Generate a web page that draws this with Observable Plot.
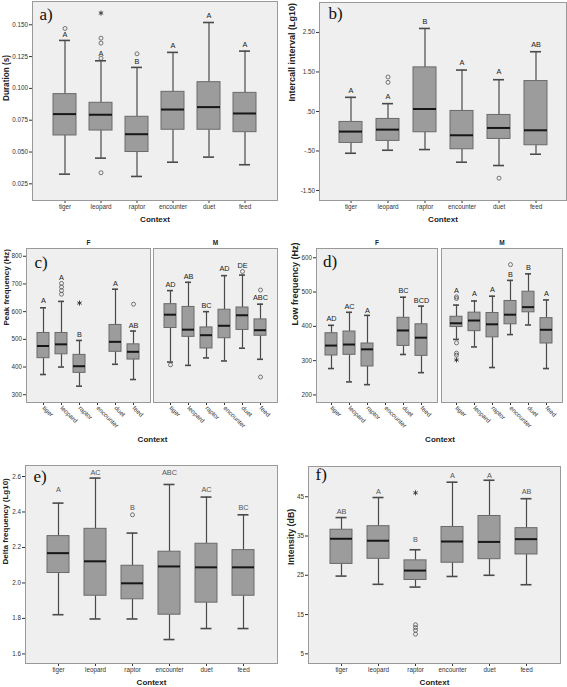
<!DOCTYPE html>
<html><head><meta charset="utf-8">
<script src="https://cdn.jsdelivr.net/npm/d3@7"></script>
<script src="https://cdn.jsdelivr.net/npm/@observablehq/plot@0.6"></script>
<style>
html,body{margin:0;padding:0;background:#fff;}
#fig{position:relative;width:567px;height:687px;overflow:hidden;background:#fff;}
#fig > div{position:absolute;}
#fig svg{overflow:visible;}
</style></head><body><div id="fig"></div>
<script>
// ---------- data ----------
const contexts = ["tiger", "leopard", "raptor", "encounter", "duet", "feed"];
const sexes = ["F", "M"];

// a) Duration (s)
const durLow  = [0.0326, 0.0452, 0.0308, 0.0420, 0.0460, 0.0400];
const durQ1   = [0.0630, 0.0669, 0.0500, 0.0675, 0.0675, 0.0656];
const durMed  = [0.0798, 0.0793, 0.0640, 0.0834, 0.0853, 0.0803];
const durQ3   = [0.0955, 0.0887, 0.0777, 0.0973, 0.1049, 0.0965];
const durHigh = [0.1377, 0.1217, 0.1165, 0.1283, 0.1518, 0.1293];
const durOutliers = [[0.1471], [0.1395, 0.1356, 0.1237, 0.0337], [0.1272], [], [], []];
const durExtremes = [[], [0.1592], [], [], [], []];
const durLetters  = ["A", "A", "B", "A", "A", "A"];
const durLetterAt = [0.1421, 0.1272, 0.1214, 0.1335, 0.1573, 0.1343];
const durTicks  = [0.025, 0.05, 0.075, 0.1, 0.125, 0.15];
const durLabels = ["0.025", "0.050", "0.075", "0.100", "0.125", "0.150"];

// b) Intercall interval (Lg10)
const intLow  = [-0.557, -0.481, -0.464, -0.784, -0.868, -0.582];
const intQ1   = [-0.296, -0.245, -0.026, -0.456, -0.195, -0.355];
const intMed  = [-0.009, 0.041, 0.563, -0.102, 0.083, 0.024];
const intQ3   = [0.235, 0.311, 1.616, 0.513, 0.412, 1.270];
const intHigh = [0.858, 0.698, 2.601, 1.548, 1.304, 2.012];
const intOutliers = [[], [1.372, 1.237], [], [], [-1.188], []];
const intExtremes = [[], [], [], [], [], []];
const intLetters  = ["A", "A", "B", "A", "A", "AB"];
const intLetterAt = [1.026, 0.883, 2.778, 1.742, 1.506, 2.197];
const intTicks  = [-1.5, -0.5, 0.5, 1.5, 2.5];
const intLabels = ["-1.50", "-.50", ".50", "1.50", "2.50"];

// c) Peak frequency (Hz), females / males
const peakLowF  = [373, 400, 331, null, 410, 355];
const peakQ1F   = [432, 446, 379, null, 455, 427];
const peakMedF  = [476, 482, 403, null, 491, 455];
const peakQ3F   = [523, 523, 444, null, 552, 482];
const peakHighF = [614, 637, 496, null, 681, 530];
const peakOutliersF = [[], [702, 689, 676, 663], [], [], [], [627]];
const peakExtremesF = [[], [], [631], [], [], []];
const peakLettersF  = ["A", "A", "B", null, "A", "AB"];
const peakLetterAtF = [639, 724, 517, null, 702, 549];
const peakLowM  = [418, 406, 433, 422, 468, 428];
const peakQ1M   = [541, 509, 467, 504, 534, 513];
const peakMedM  = [589, 535, 515, 549, 587, 533];
const peakQ3M   = [627, 617, 543, 607, 615, 572];
const peakHighM = [676, 706, 600, 730, 732, 627];
const peakOutliersM = [[408], [], [], [], [745], [678, 364]];
const peakExtremesM = [[], [], [], [], [], []];
const peakLettersM  = ["AD", "AB", "BC", "AD", "DE", "ABC"];
const peakLetterAtM = [698, 726, 621, 754, 765, 649];
const peakTicks  = [300, 400, 500, 600, 700, 800];
const peakLabels = ["300", "400", "500", "600", "700", "800"];

// d) Low frequency (Hz), females / males
const lowLowF  = [277, 238, 230, null, 318, 265];
const lowQ1F   = [315, 317, 283, null, 343, 314];
const lowMedF  = [344, 347, 333, null, 388, 367];
const lowQ3F   = [380, 385, 350, null, 425, 406];
const lowHighF = [403, 441, 432, null, 485, 459];
const lowOutliersF = [[], [], [], [], [], []];
const lowExtremesF = [[], [], [], [], [], []];
const lowLettersF  = ["AD", "AC", "A", null, "BC", "BCD"];
const lowLetterAtF = [423, 458, 447, null, 504, 476];
const lowLowM  = [362, 340, 280, 376, 404, 277];
const lowQ1M   = [398, 386, 368, 406, 441, 350];
const lowMedM  = [409, 417, 406, 434, 456, 390];
const lowQ3M   = [428, 440, 439, 474, 501, 424];
const lowHighM = [462, 474, 488, 534, 553, 477];
const lowOutliersM = [[486, 481, 352, 322, 316], [], [], [580], [], []];
const lowExtremesM = [[302], [], [], [], [], []];
const lowLettersM  = ["A", "A", "A", "B", "B", "A"];
const lowLetterAtM = [505, 494, 507, 552, 572, 496];
const lowTicks  = [200, 300, 400, 500, 600];
const lowLabels = ["200", "300", "400", "500", "600"];

// e) Delta frequency (Lg10)
const delLow  = [1.821, 1.797, 1.797, 1.681, 1.743, 1.743];
const delQ1   = [2.056, 1.928, 1.908, 1.821, 1.889, 1.928];
const delMed  = [2.168, 2.122, 1.998, 2.093, 2.088, 2.088];
const delQ3   = [2.264, 2.305, 2.097, 2.176, 2.221, 2.185];
const delHigh = [2.450, 2.591, 2.281, 2.555, 2.484, 2.384];
const delOutliers = [[], [], [2.384], [], [], []];
const delExtremes = [[], [], [], [], [], []];
const delLetters  = ["A", "AC", "B", "ABC", "AC", "BC"];
const delLetterAt = [2.527, 2.624, 2.427, 2.624, 2.525, 2.424];
const delTicks  = [1.6, 1.8, 2.0, 2.2, 2.4, 2.6];
const delLabels = ["1.6", "1.8", "2.0", "2.2", "2.4", "2.6"];

// f) Intensity (dB)
const intsLow  = [24.8, 22.7, 22.0, 24.7, 25.0, 22.6];
const intsQ1   = [27.9, 29.2, 23.8, 28.2, 29.1, 30.3];
const intsMed  = [34.3, 33.8, 26.2, 33.6, 33.5, 34.2];
const intsQ3   = [36.6, 37.5, 28.8, 37.3, 40.1, 37.0];
const intsHigh = [39.7, 44.8, 31.5, 48.7, 49.2, 44.5];
const intsOutliers = [[], [], [12.4, 11.7, 11.0, 10.0], [], [], []];
const intsExtremes = [[], [], [46.0], [], [], []];
const intsLetters  = ["AB", "A", "B", "A", "A", "AB"];
const intsLetterAt = [41.3, 46.4, 34.2, 50.3, 50.3, 46.3];
const intsTicks  = [5, 15, 25, 35, 45];
const intsLabels = ["5", "15", "25", "35", "45"];

// ---------- helpers ----------
const SANS = "'Liberation Sans', Arial, sans-serif";
const SERIF = "'Liberation Serif', 'Times New Roman', serif";
const BG = "#efefef", FRAME = "#9a9a9a", BOX = "#9c9c9c", BOX_EDGE = "#6a6a6a";
const WHISK = "#4a4a4a", MED = "#161616", OUT = "#555";

function boxRows(g, lo, q1, med, q3, hi) {
  return contexts.map((c, i) => ({group: g, cat: c, lo: lo[i], q1: q1[i], med: med[i], q3: q3[i], hi: hi[i]}))
    .filter(d => d.med != null);
}
function pointRows(g, lists) {
  return lists.flatMap((vs, i) => vs.map(v => ({group: g, cat: contexts[i], v})));
}
function letterRows(g, letters, at) {
  return letters.map((t, i) => ({group: g, cat: contexts[i], t, v: at[i]})).filter(d => d.t);
}

function boxPlot(p) {
  const F = p.faceted ? {fx: "group"} : {};
  const first = p.faceted ? {fx: ["F"]} : {};
  const marks = [
    Plot.frame({fill: BG, stroke: FRAME, strokeWidth: 1}),
    Plot.ruleX(p.boxes, {...F, x: "cat", y1: "lo", y2: "q1", stroke: WHISK, strokeWidth: 1.2}),
    Plot.ruleX(p.boxes, {...F, x: "cat", y1: "q3", y2: "hi", stroke: WHISK, strokeWidth: 1.2}),
    Plot.tickY(p.boxes, {...F, x: "cat", y: "lo", insetLeft: p.capInset, insetRight: p.capInset, stroke: WHISK, strokeWidth: 1.6}),
    Plot.tickY(p.boxes, {...F, x: "cat", y: "hi", insetLeft: p.capInset, insetRight: p.capInset, stroke: WHISK, strokeWidth: 1.6}),
    Plot.barY(p.boxes, {...F, x: "cat", y1: "q1", y2: "q3", fill: BOX, stroke: BOX_EDGE, strokeWidth: 1}),
    Plot.tickY(p.boxes, {...F, x: "cat", y: "med", stroke: MED, strokeWidth: 2}),
    Plot.dot(p.outs, {...F, x: "cat", y: "v", r: 2, stroke: OUT, strokeWidth: 0.8, fill: "none"}),
    Plot.dot(p.stars, {...F, x: "cat", y: "v", r: 2.4, symbol: "asterisk", stroke: "#333", strokeWidth: 0.9}),
    Plot.text(p.letters, {...F, x: "cat", y: "v", text: "t", fontSize: 7.3, fill: p.letterFill, fontFamily: SANS}),
    Plot.text([p.tag], {...first, text: d => d, frameAnchor: "top-left", dx: p.tagDx, dy: p.tagDy,
      textAnchor: "start", lineAnchor: "middle", fontFamily: SERIF, fontSize: 17, fill: "#111"}),
    Plot.text([p.yTitle], {...first, text: d => d, frameAnchor: "left", rotate: -90, dx: p.yTitleDx,
      fontWeight: "bold", fontSize: p.yTitleSize, fill: "#222", fontFamily: SANS}),
    Plot.text(["Context"], {...first, text: d => d, frameAnchor: "bottom", dx: p.contextDx || 0, dy: p.contextDy,
      lineAnchor: "middle", fontWeight: "bold", fontSize: 8, fill: "#222", fontFamily: SANS})
  ];
  if (p.faceted) {
    marks.push(Plot.text(sexes, {fx: d => d, text: d => d, frameAnchor: "top", dy: -6, lineAnchor: "middle",
      fontWeight: "bold", fontSize: 6.5, fill: "#222", fontFamily: SANS}));
  }
  const opts = {
    width: p.width, height: p.height,
    marginLeft: p.m[0], marginRight: p.m[1], marginTop: p.m[2], marginBottom: p.m[3],
    style: {fontFamily: SANS, fontSize: "6.3px", color: "#333", background: "transparent", overflow: "visible"},
    x: {domain: contexts, paddingInner: p.pi, paddingOuter: p.po, tickSize: 3, tickPadding: 1.5,
        tickRotate: p.tilt ? 45 : 0, label: null},
    y: {domain: p.yDomain, ticks: p.yTicks, tickFormat: d => p.yLabels[p.yTicks.indexOf(d)],
        tickSize: 3, tickPadding: 1.5, label: null},
    marks
  };
  if (p.faceted) opts.fx = {domain: sexes, paddingInner: p.fxPad, paddingOuter: 0, axis: null, label: null};
  return Plot.plot(opts);
}

const fig = document.getElementById("fig");
function place(node, left, top) {
  const d = document.createElement("div");
  d.style.left = left + "px"; d.style.top = top + "px";
  d.appendChild(node); fig.appendChild(d);
}

// a)
place(boxPlot({
  boxes: boxRows(null, durLow, durQ1, durMed, durQ3, durHigh),
  outs: pointRows(null, durOutliers), stars: pointRows(null, durExtremes),
  letters: letterRows(null, durLetters, durLetterAt), letterFill: "#222",
  yDomain: [0.0119, 0.1683], yTicks: durTicks, yLabels: durLabels,
  yTitle: "Duration (s)", yTitleSize: 8.2, yTitleDx: -26.5, tag: "a)", tagDx: 7, tagDy: 13,
  width: 283, height: 228, m: [32, 6, 1, 28], pi: 0.367, po: 0.512, capInset: 6, contextDy: 19.3
}), 0, 0);

// b)
place(boxPlot({
  boxes: boxRows(null, intLow, intQ1, intMed, intQ3, intHigh),
  outs: pointRows(null, intOutliers), stars: pointRows(null, intExtremes),
  letters: letterRows(null, intLetters, intLetterAt), letterFill: "#222",
  yDomain: [-1.753, 3.258], yTicks: intTicks, yLabels: intLabels,
  yTitle: "Intercall interval (Lg10)", yTitleSize: 9, yTitleDx: -27, tag: "b)", tagDx: 9, tagDy: 11,
  width: 284, height: 228, m: [36, 1, 2, 28], pi: 0.38, po: 0.5, capInset: 6, contextDy: 19.3
}), 283, 0);

// c)
place(boxPlot({
  faceted: true,
  boxes: [...boxRows("F", peakLowF, peakQ1F, peakMedF, peakQ3F, peakHighF),
          ...boxRows("M", peakLowM, peakQ1M, peakMedM, peakQ3M, peakHighM)],
  outs: [...pointRows("F", peakOutliersF), ...pointRows("M", peakOutliersM)],
  stars: [...pointRows("F", peakExtremesF), ...pointRows("M", peakExtremesM)],
  letters: [...letterRows("F", peakLettersF, peakLetterAtF), ...letterRows("M", peakLettersM, peakLetterAtM)],
  letterFill: "#222",
  yDomain: [272, 828], yTicks: peakTicks, yLabels: peakLabels,
  yTitle: "Peak frequency (Hz)", yTitleSize: 8, yTitleDx: -20, tag: "c)", tagDx: 8, tagDy: 14,
  width: 283, height: 227, m: [25, 5, 20, 53], pi: 0.36, po: 0.55, capInset: 3, fxPad: 0.0234,
  tilt: true, contextDy: 36.7, contextDx: 64
}), 0, 228);

// d)
place(boxPlot({
  faceted: true,
  boxes: [...boxRows("F", lowLowF, lowQ1F, lowMedF, lowQ3F, lowHighF),
          ...boxRows("M", lowLowM, lowQ1M, lowMedM, lowQ3M, lowHighM)],
  outs: [...pointRows("F", lowOutliersF), ...pointRows("M", lowOutliersM)],
  stars: [...pointRows("F", lowExtremesF), ...pointRows("M", lowExtremesM)],
  letters: [...letterRows("F", lowLettersF, lowLetterAtF), ...letterRows("M", lowLettersM, lowLetterAtM)],
  letterFill: "#222",
  yDomain: [178, 627], yTicks: lowTicks, yLabels: lowLabels,
  yTitle: "Low frequency (Hz)", yTitleSize: 9, yTitleDx: -21.5, tag: "d)", tagDx: 6.6, tagDy: 13.5,
  width: 284, height: 227, m: [32, 4, 20, 53], pi: 0.31, po: 0.45, capInset: 3, fxPad: 0.0317,
  tilt: true, contextDy: 36.7, contextDx: 63
}), 283, 228);

// e)
place(boxPlot({
  boxes: boxRows(null, delLow, delQ1, delMed, delQ3, delHigh),
  outs: pointRows(null, delOutliers), stars: pointRows(null, delExtremes),
  letters: letterRows(null, delLetters, delLetterAt), letterFill: "#555",
  yDomain: [1.546, 2.662], yTicks: delTicks, yLabels: delLabels,
  yTitle: "Delta frequency (Lg10)", yTitleSize: 8, yTitleDx: -20, tag: "e)", tagDx: 8, tagDy: 11,
  width: 283, height: 232, m: [25, 6, 10, 24], pi: 0.4, po: 0.53, capInset: 5.5, contextDy: 18.7
}), 0, 455);

// f)
place(boxPlot({
  boxes: boxRows(null, intsLow, intsQ1, intsMed, intsQ3, intsHigh),
  outs: pointRows(null, intsOutliers), stars: pointRows(null, intsExtremes),
  letters: letterRows(null, intsLetters, intsLetterAt), letterFill: "#555",
  yDomain: [2.54, 52.7], yTicks: intsTicks, yLabels: intsLabels,
  yTitle: "Intensity (dB)", yTitleSize: 8.8, yTitleDx: -17.5, tag: "f)", tagDx: 7, tagDy: 8.5,
  width: 284, height: 232, m: [25, 7, 11, 24], pi: 0.4, po: 0.53, capInset: 5.5, contextDy: 18.7
}), 283, 455);
</script></body></html>
